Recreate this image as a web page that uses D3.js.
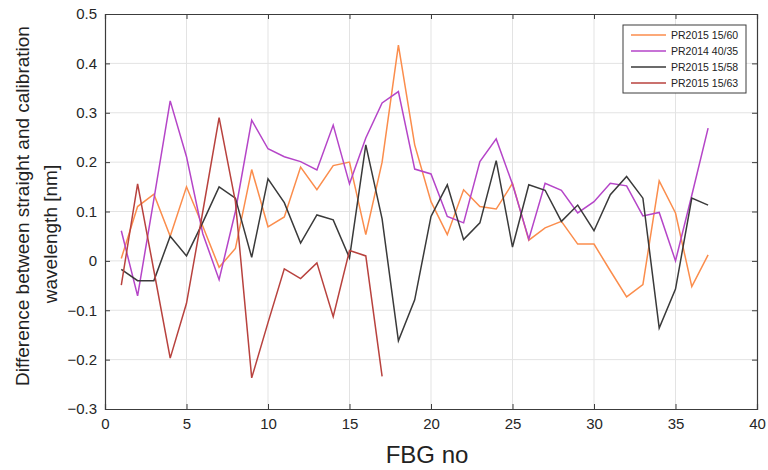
<!DOCTYPE html>
<html>
<head>
<meta charset="utf-8">
<script src="https://cdn.jsdelivr.net/npm/d3@7"></script>
<style>
  html, body { margin: 0; padding: 0; background: #ffffff; }
  svg { display: block; font-family: "Liberation Sans", Arial, sans-serif; }
</style>
</head>
<body>
<svg id="chart" width="768" height="470"></svg>
<script>
// ---- data ----
const seriesNames = ["PR2015 15/60", "PR2014 40/35", "PR2015 15/58", "PR2015 15/63"];
const seriesColors = ["#fb8d4c", "#b545c8", "#3a3a3a", "#b8423e"];

const pr2015_1560 = [0.005, 0.11, 0.135, 0.05, 0.15, 0.07, -0.013, 0.025, 0.185, 0.069,
  0.089, 0.19, 0.144, 0.193, 0.2, 0.053, 0.2, 0.437, 0.235, 0.12,
  0.053, 0.144, 0.11, 0.105, 0.157, 0.042, 0.067, 0.08, 0.034, 0.034,
  -0.02, -0.073, -0.048, 0.162, 0.097, -0.052, 0.012];
const pr2014_4035 = [0.061, -0.071, 0.125, 0.324, 0.211, 0.055, -0.038, 0.1, 0.285, 0.227,
  0.211, 0.201, 0.184, 0.275, 0.156, 0.249, 0.32, 0.343, 0.186, 0.176,
  0.09, 0.077, 0.201, 0.247, 0.155, 0.044, 0.157, 0.143, 0.097, 0.12,
  0.157, 0.152, 0.091, 0.098, 0.0, 0.133, 0.269];
const pr2015_1558 = [-0.017, -0.04, -0.04, 0.05, 0.01, 0.078, 0.15, 0.127, 0.007, 0.166,
  0.118, 0.036, 0.093, 0.083, 0.006, 0.235, 0.085, -0.162, -0.079, 0.09,
  0.154, 0.043, 0.077, 0.203, 0.028, 0.154, 0.143, 0.08, 0.113, 0.061,
  0.134, 0.171, 0.127, -0.136, -0.057, 0.127, 0.113];
const pr2015_1563 = [-0.049, 0.156, -0.02, -0.197, -0.086, 0.1, 0.29, 0.12, -0.237, -0.125,
  -0.016, -0.036, -0.004, -0.113, 0.021, 0.01, -0.234];

const seriesValues = [pr2015_1560, pr2014_4035, pr2015_1558, pr2015_1563];

const xTicks = [0, 5, 10, 15, 20, 25, 30, 35, 40];
const yTicks = [-0.3, -0.2, -0.1, 0, 0.1, 0.2, 0.3, 0.4, 0.5];
const xLabel = "FBG no";
const yLabelLines = ["Difference between straight and calibration", "wavelength [nm]"];

// ---- layout ----
const W = 768, H = 470;
const m = { left: 105, right: 11, top: 14, bottom: 61 };
const iw = W - m.left - m.right, ih = H - m.top - m.bottom;

const svg = d3.select("#chart");
const g = svg.append("g").attr("transform", `translate(${m.left},${m.top})`);

const x = d3.scaleLinear().domain([0, 40]).range([0, iw]);
const y = d3.scaleLinear().domain([-0.3, 0.5]).range([ih, 0]);

// grid
g.append("g").selectAll("line").data(xTicks.slice(1, -1)).join("line")
  .attr("x1", d => x(d)).attr("x2", d => x(d)).attr("y1", 0).attr("y2", ih)
  .attr("stroke", "#e3e3e3").attr("stroke-width", 1);
g.append("g").selectAll("line").data(yTicks.slice(1, -1)).join("line")
  .attr("y1", d => y(d)).attr("y2", d => y(d)).attr("x1", 0).attr("x2", iw)
  .attr("stroke", "#e3e3e3").attr("stroke-width", 1);

// lines
const line = d3.line().x((d, i) => x(i + 1)).y(d => y(d));
seriesValues.forEach((vals, k) => {
  g.append("path").datum(vals)
    .attr("fill", "none")
    .attr("stroke", seriesColors[k])
    .attr("stroke-width", 1.5)
    .attr("stroke-linejoin", "miter")
    .attr("d", line);
});

// axes
const fmtY = d => (d === 0 ? "0" : d3.format(".1f")(d));
const axB = g.append("g").attr("transform", `translate(0,${ih})`)
  .call(d3.axisBottom(x).tickValues(xTicks).tickSize(-5).tickPadding(9).tickFormat(d3.format("d")));
const axL = g.append("g")
  .call(d3.axisLeft(y).tickValues(yTicks).tickSize(-5).tickPadding(8).tickFormat(fmtY));
const axT = g.append("g")
  .call(d3.axisTop(x).tickValues(xTicks).tickSize(-5).tickFormat(""));
const axR = g.append("g").attr("transform", `translate(${iw},0)`)
  .call(d3.axisRight(y).tickValues(yTicks).tickSize(-5).tickFormat(""));
[axB, axL, axT, axR].forEach(a => {
  a.select(".domain").attr("stroke", "#3c3c3c").attr("stroke-width", 1.2);
  a.selectAll(".tick line").attr("stroke", "#3c3c3c");
  a.selectAll(".tick text").attr("fill", "#262626").attr("font-size", 15)
    .attr("font-family", "Liberation Sans, Arial, sans-serif");
});

// axis labels
svg.append("text").attr("x", m.left + x(20) - 4).attr("y", 463)
  .attr("text-anchor", "middle").attr("font-size", 24).attr("fill", "#222")
  .text(xLabel);
svg.append("text").attr("transform", "translate(29,206) rotate(-90)")
  .attr("text-anchor", "middle").attr("font-size", 19).attr("fill", "#222")
  .text(yLabelLines[0]);
svg.append("text").attr("transform", "translate(57,234) rotate(-90)")
  .attr("text-anchor", "middle").attr("font-size", 19).attr("fill", "#222")
  .text(yLabelLines[1]);

// legend
const lg = svg.append("g").attr("transform", "translate(623,25)");
lg.append("rect").attr("width", 123).attr("height", 68)
  .attr("fill", "#fff").attr("stroke", "#3c3c3c").attr("stroke-width", 1);
seriesNames.forEach((name, k) => {
  const yy = 10 + k * 16;
  lg.append("line").attr("x1", 8).attr("x2", 43).attr("y1", yy).attr("y2", yy)
    .attr("stroke", seriesColors[k]).attr("stroke-width", 1.4);
  lg.append("text").attr("x", 48).attr("y", yy + 4).attr("font-size", 10.5)
    .attr("fill", "#222").text(name);
});
</script>
</body>
</html>
